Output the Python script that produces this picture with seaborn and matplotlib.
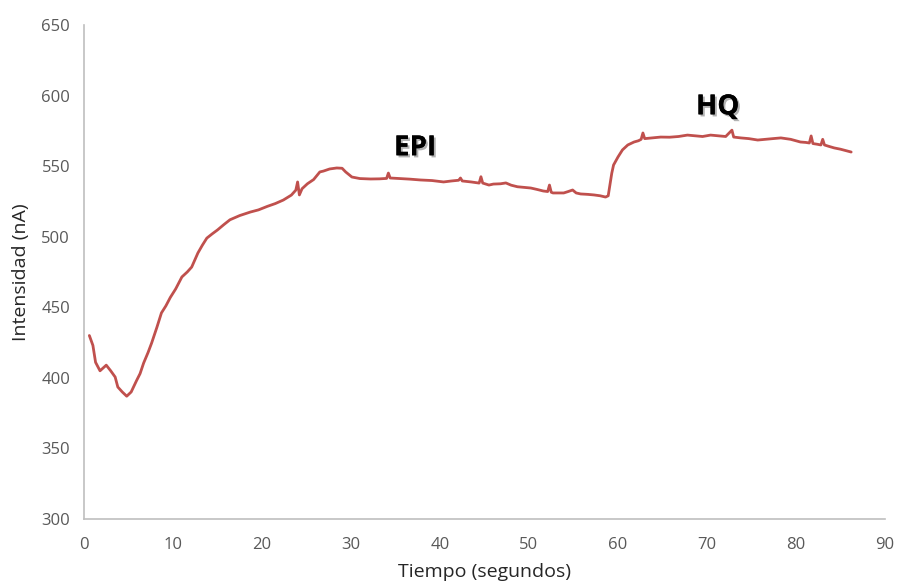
import matplotlib
matplotlib.use("Agg")
import matplotlib.pyplot as plt
import matplotlib.patheffects as pe
import seaborn as sns
import pandas as pd

# --- data (10 values per row, rows matched) ---
tiempo = [
    0.6, 1.0, 1.3, 1.8, 2.5, 3.0, 3.5, 3.8, 4.3, 4.8,
    5.3, 5.9, 6.3, 6.7, 7.2, 7.6, 8.2, 8.7, 9.2, 9.7,
    10.3, 11.0, 11.6, 12.1, 12.8, 13.3, 13.8, 14.4, 15.0, 15.7,
    16.4, 17.5, 18.7, 19.6, 20.6, 21.5, 22.4, 23.3, 23.8, 24.0,
    24.2, 24.5, 25.1, 25.8, 26.5, 26.9, 27.6, 28.4, 29.0, 29.4,
    30.1, 31.0, 32.2, 33.2, 34.0, 34.2, 34.4, 35.5, 36.6, 37.8,
    39.1, 40.4, 41.3, 42.1, 42.3, 42.5, 43.5, 44.4, 44.6, 44.8,
    45.5, 46.0, 46.8, 47.4, 48.0, 48.7, 49.4, 50.2, 50.9, 51.6,
    52.1, 52.3, 52.5, 52.7, 53.3, 53.9, 54.4, 54.9, 55.3, 55.8,
    56.6, 57.3, 58.0, 58.6, 58.9, 59.0, 59.3, 59.5, 60.0, 60.5,
    61.1, 61.8, 62.3, 62.6, 62.8, 63.0, 63.8, 64.8, 65.8, 66.8,
    67.8, 68.6, 69.5, 70.4, 71.3, 72.1, 72.8, 73.0, 73.8, 74.7,
    75.7, 76.5, 77.4, 78.3, 79.4, 80.5, 81.1, 81.5, 81.7, 81.9,
    82.4, 82.8, 83.0, 83.2, 83.7, 84.3, 85.0, 85.6, 86.2,
]
intensidad = [
    430, 423, 411, 405, 409, 405, 400.6, 393.5, 390, 387,
    390, 398, 403, 410.5, 418, 424.7, 436, 446, 451, 457,
    463, 471.5, 475, 478.5, 488.5, 494, 499, 502, 504.8, 508.5,
    512, 515, 517.5, 519, 521.5, 523.5, 526, 529.5, 533, 538.8,
    529.6, 534, 537.5, 540.5, 545.9, 546.5, 548, 548.7, 548.5, 545.9,
    542.3, 541.2, 540.9, 541, 541.3, 545.1, 541.6, 541.2, 540.8, 540.2,
    539.8, 538.8, 539.5, 540, 541.6, 539.5, 538.8, 538, 542.5, 538,
    536.6, 537.3, 537.5, 538.1, 536.5, 535.4, 535, 534.5, 533.5, 532.4,
    532, 536.6, 531.5, 531, 531, 531, 532, 533.1, 531, 530.3,
    530, 529.6, 529, 528.1, 529, 533.1, 545, 550.8, 556.5, 561.5,
    565, 567.1, 568, 569, 573.5, 569.5, 570, 570.6, 570.5, 571,
    572, 571.5, 571, 572, 571.5, 571, 575.5, 570.6, 570, 569.5,
    568.5, 569, 569.5, 570, 569, 567.1, 566.8, 566.4, 571.4, 566,
    565.5, 565, 569, 565, 564, 562.9, 562, 561, 560,
]

x_ticks = [0, 10, 20, 30, 40, 50, 60, 70, 80, 90]
y_ticks = [300, 350, 400, 450, 500, 550, 600, 650]
x_label = "Tiempo (segundos)"
y_label = "Intensidad (nA)"
anotaciones = ["EPI", "HQ"]
anot_x = [37.2, 71.2]
anot_y = [563, 592]

df = pd.DataFrame({"t": tiempo, "i": intensidad})

sns.set_theme(style="white")
plt.rcParams["font.family"] = ["Open Sans", "DejaVu Sans"]

fig = plt.figure(figsize=(9, 5.86), dpi=100)
ax = fig.add_axes([84 / 900, 1 - 519 / 586, (885 - 84) / 900, (519 - 25) / 586])

sns.lineplot(data=df, x="t", y="i", ax=ax, color="#C0504D", linewidth=2.0,
             sort=False, estimator=None, solid_joinstyle="round")

ax.set_xlim(0, 90)
ax.set_ylim(300, 650)
ax.set_xticks(x_ticks)
ax.set_yticks(y_ticks)
ax.tick_params(axis="both", length=0, labelsize=12, colors="#595959")
ax.tick_params(axis="x", pad=13)
ax.tick_params(axis="y", pad=10)
ax.set_xlabel(x_label, fontsize=14, color="#262626", labelpad=7)
ax.set_ylabel(y_label, fontsize=14, color="#262626", labelpad=8)

for s in ["top", "right"]:
    ax.spines[s].set_visible(False)
for s in ["left", "bottom"]:
    ax.spines[s].set_color("#BFBFBF")
    ax.spines[s].set_linewidth(1.2)

shadow = [pe.withSimplePatchShadow(offset=(1.5, -1.5), shadow_rgbFace="#7F7F7F", alpha=0.6), pe.Normal()]
for txt, xx, yy in zip(anotaciones, anot_x, anot_y):
    ax.text(xx, yy, txt, fontsize=20, fontweight="bold", color="black",
            ha="center", va="center", path_effects=shadow)

fig.savefig("out.png", dpi=100)
